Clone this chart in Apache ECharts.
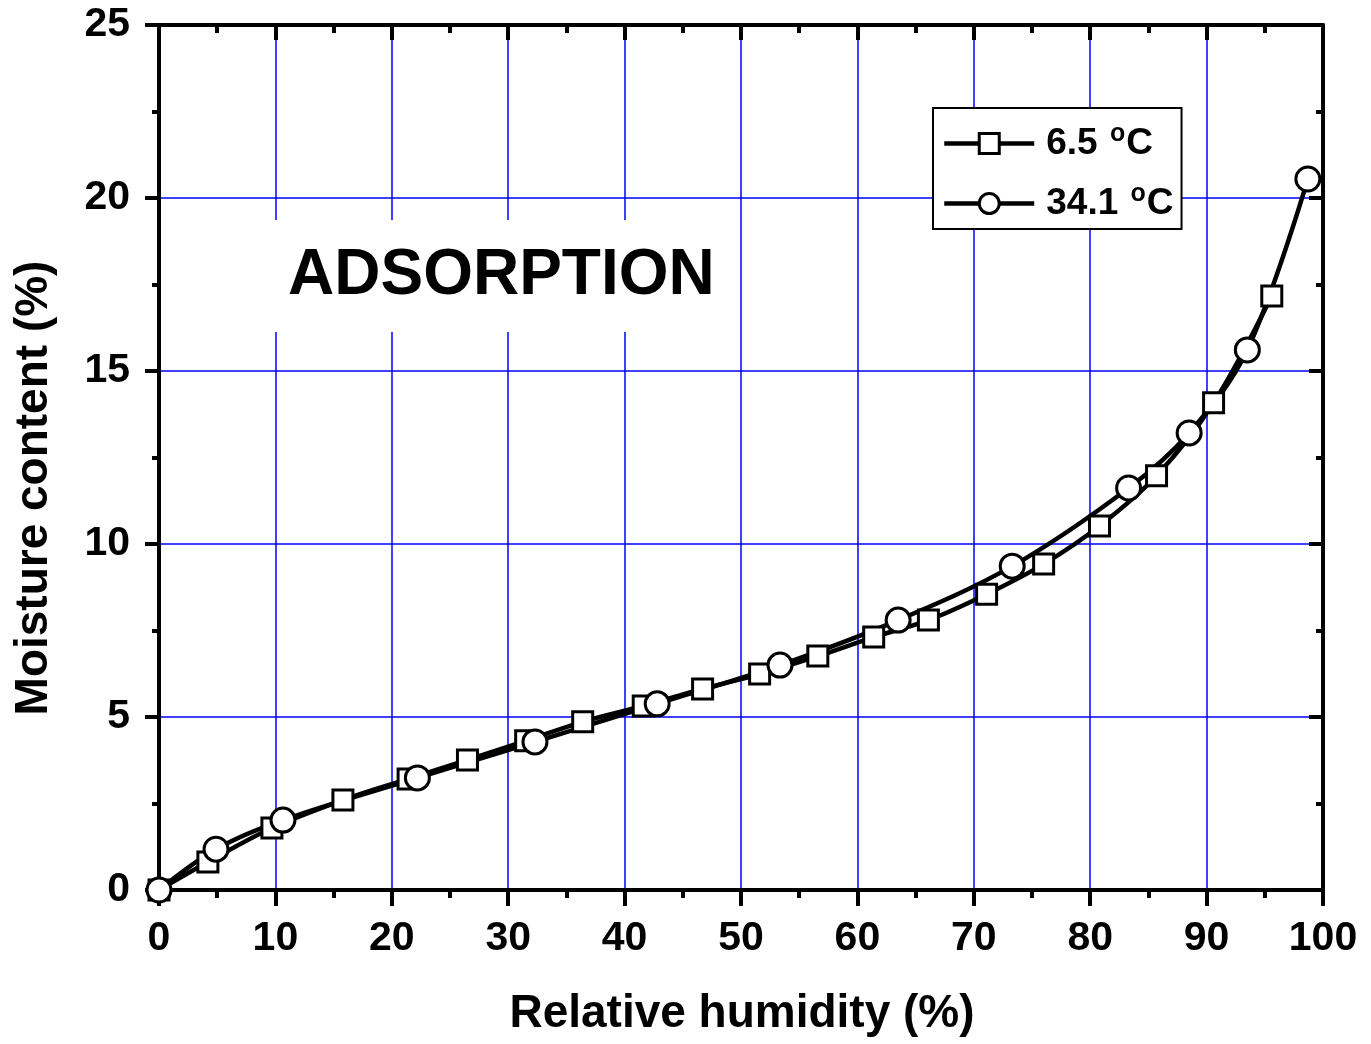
<!DOCTYPE html>
<html>
<head>
<meta charset="utf-8">
<script src="https://cdn.jsdelivr.net/npm/echarts@6/dist/echarts.min.js"></script>
<style>
html,body{margin:0;padding:0;background:#fff;}
#chart{width:1371px;height:1044px;}
</style>
</head>
<body>
<div id="chart"></div>
<script>
// ---- data ----
const seriesNames = ['6.5 °C', '34.1 °C'];
const rh_6_5 = [0, 4.2, 9.7, 15.8, 21.4, 26.5, 31.5, 36.4, 41.6, 46.7, 51.6, 56.6, 61.4, 66.1, 71.1, 76.0, 80.8, 85.7, 90.6, 95.6];
const mc_6_5 = [0, 0.81, 1.79, 2.60, 3.21, 3.76, 4.31, 4.86, 5.32, 5.81, 6.24, 6.76, 7.31, 7.80, 8.55, 9.42, 10.52, 11.97, 14.08, 17.17];
const rh_34_1 = [0, 4.9, 10.65, 22.2, 32.3, 42.8, 53.35, 63.5, 73.3, 83.3, 88.5, 93.5, 98.7];
const mc_34_1 = [0, 1.18, 2.02, 3.24, 4.28, 5.38, 6.50, 7.80, 9.36, 11.62, 13.21, 15.61, 20.55];
const xTicks = [0, 10, 20, 30, 40, 50, 60, 70, 80, 90, 100];
const yTicks = [0, 5, 10, 15, 20, 25];
const xTitle = 'Relative humidity (%)';
const yTitle = 'Moisture content (%)';
const panelLabel = 'ADSORPTION';

const FONT = '"Liberation Sans", Arial, Helvetica, sans-serif';
const pairs = (xs, ys) => xs.map((x, i) => [x, ys[i]]);

const chart = echarts.init(document.getElementById('chart'), null, {renderer: 'canvas'});

const axisCommonX = {
  type: 'value', min: xTicks[0], max: xTicks[xTicks.length - 1], interval: 10,
  axisLine: {show: true, onZero: false, lineStyle: {color: '#000', width: 4}},
  minorTick: {show: true, splitNumber: 2, length: 8, lineStyle: {color: '#000', width: 4}},
};
const axisCommonY = {
  type: 'value', min: yTicks[0], max: yTicks[yTicks.length - 1], interval: 5,
  axisLine: {show: true, onZero: false, lineStyle: {color: '#000', width: 4}},
  minorTick: {show: true, splitNumber: 2, length: 8, lineStyle: {color: '#000', width: 4}},
};

const option = {
  backgroundColor: '#fff',
  animation: false,
  grid: {left: 159, right: 48, top: 25, bottom: 154, containLabel: false},
  xAxis: [
    Object.assign({}, axisCommonX, {
      position: 'bottom',
      axisTick: {show: true, inside: false, length: 16, lineStyle: {color: '#000', width: 4}},
      axisLabel: {show: true, margin: 28, color: '#000', fontFamily: FONT, fontWeight: 'bold', fontSize: 41},
      splitLine: {show: true, lineStyle: {color: '#0000ff', width: 1.5}}
    }),
    Object.assign({}, axisCommonX, {
      position: 'top',
      axisTick: {show: true, inside: true, length: 15, lineStyle: {color: '#000', width: 4}},
      minorTick: {show: true, splitNumber: 2, length: 8, lineStyle: {color: '#000', width: 4}},
      axisLabel: {show: false},
      splitLine: {show: false}
    })
  ],
  yAxis: [
    Object.assign({}, axisCommonY, {
      position: 'left',
      axisTick: {show: true, inside: false, length: 14, lineStyle: {color: '#000', width: 4}},
      minorTick: {show: true, splitNumber: 2, length: 7, lineStyle: {color: '#000', width: 4}},
      axisLabel: {show: true, margin: 29, color: '#000', fontFamily: FONT, fontWeight: 'bold', fontSize: 41},
      splitLine: {show: true, lineStyle: {color: '#0000ff', width: 1.5}}
    }),
    Object.assign({}, axisCommonY, {
      position: 'right',
      axisTick: {show: true, inside: true, length: 14, lineStyle: {color: '#000', width: 4}},
      minorTick: {show: true, splitNumber: 2, length: 7, lineStyle: {color: '#000', width: 4}},
      axisLabel: {show: false},
      splitLine: {show: false}
    })
  ],
  legend: {
    orient: 'vertical',
    left: 933, top: 108,
    padding: [14, 8, 7, 9],
    itemGap: 20,
    itemWidth: 90, itemHeight: 25,
    borderColor: '#000', borderWidth: 2, backgroundColor: '#fff',
    data: seriesNames,
    lineStyle: {width: 4.5, color: '#000'},
    itemStyle: {color: '#fff', borderColor: '#000', borderWidth: 3},
    formatter: function (name) {
      const p = name.split(' °');
      return '{n|' + p[0] + ' }{s|o}{t|' + p[1] + '}';
    },
    textStyle: {
      color: '#000', fontFamily: FONT, fontWeight: 'bold', fontSize: 37,
      rich: {
        n: {fontFamily: FONT, fontWeight: 'bold', fontSize: 37, color: '#000', lineHeight: 41, padding: [0, 0, 0, 7]},
        t: {fontFamily: FONT, fontWeight: 'bold', fontSize: 37, color: '#000', lineHeight: 41},
        s: {fontFamily: FONT, fontWeight: 'bold', fontSize: 25, color: '#000', padding: [0, 1, 18, 2]}
      }
    }
  },
  graphic: [
    {
      type: 'text', left: 270, top: 220, z: 10,
      style: {
        text: panelLabel, fontFamily: FONT, fontWeight: 'bold', fontSize: 64, fill: '#000',
        backgroundColor: '#fff', padding: [24, 18, 24, 18]
      }
    },
    {
      type: 'text', x: 742, y: 1014, z: 10,
      style: {text: xTitle, fontFamily: FONT, fontWeight: 'bold', fontSize: 46, fill: '#000',
        align: 'center', verticalAlign: 'middle'}
    },
    {
      type: 'text', x: 34, y: 488, rotation: Math.PI / 2, z: 10,
      style: {text: yTitle, fontFamily: FONT, fontWeight: 'bold', fontSize: 46, fill: '#000',
        align: 'center', verticalAlign: 'middle'}
    }
  ],
  series: [
    {
      name: seriesNames[0], type: 'line', xAxisIndex: 0, yAxisIndex: 0,
      data: pairs(rh_6_5, mc_6_5),
      smooth: 0.35, clip: false,
      symbol: 'rect', symbolSize: 20,
      lineStyle: {color: '#000', width: 4.5},
      itemStyle: {color: '#fff', borderColor: '#000', borderWidth: 3}
    },
    {
      name: seriesNames[1], type: 'line', xAxisIndex: 0, yAxisIndex: 0,
      data: pairs(rh_34_1, mc_34_1),
      smooth: 0.35, clip: false,
      symbol: 'circle', symbolSize: 24,
      lineStyle: {color: '#000', width: 4.5},
      itemStyle: {color: '#fff', borderColor: '#000', borderWidth: 3}
    }
  ]
};
chart.setOption(option);
</script>
</body>
</html>
